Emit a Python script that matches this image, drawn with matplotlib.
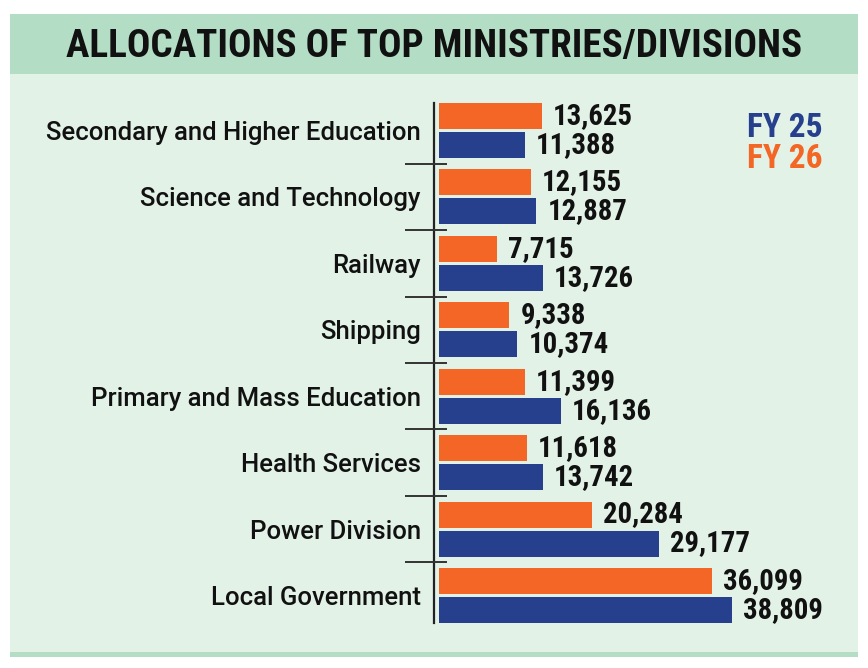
import matplotlib
matplotlib.use("Agg")
import matplotlib.pyplot as plt
from matplotlib import font_manager as fm
from matplotlib.patches import Rectangle
import numpy as np

# ---------------- data ----------------
categories = ["Secondary and Higher Education", "Science and Technology", "Railway",
              "Shipping", "Primary and Mass Education", "Health Services",
              "Power Division", "Local Government"]
fy25 = [11388, 12887, 13726, 10374, 16136, 13742, 29177, 38809]
fy26 = [13625, 12155, 7715, 9338, 11399, 11618, 20284, 36099]
series_names = ["FY 25", "FY 26"]
title = "ALLOCATIONS OF TOP MINISTRIES/DIVISIONS"

# ---------------- style ----------------
ORANGE = "#f36625"
BLUE = "#26408e"
BAND = "#b3dec5"
PANEL = "#e2f2e7"
INK = "#111111"

avail = {f.name for f in fm.fontManager.ttflist}
def pick(*names):
    for n in names:
        if n in avail:
            return n
    return "DejaVu Sans"

COND = pick("Roboto Condensed", "Liberation Sans Narrow", "Open Sans Condensed", "Roboto")
CAT = pick("Roboto", "Open Sans", "Lato", "DejaVu Sans")

W, H = 868, 668
fig = plt.figure(figsize=(W / 100, H / 100), dpi=100, facecolor="white")
renderer = fig.canvas.get_renderer()

def fx(px):
    return px / W
def fy(py):
    return 1 - py / H

def fit_size(text, target_w, base=20, maxsize=None, **kw):
    t = fig.text(0, 0, text, fontsize=base, **kw)
    w = t.get_window_extent(renderer).width
    t.remove()
    s = base * target_w / w
    if maxsize is not None:
        s = min(s, maxsize)
    return s

# background panels
fig.patches.append(Rectangle((fx(10), fy(657)), fx(848), (657 - 74) / H,
                             transform=fig.transFigure, facecolor=PANEL, edgecolor="none", zorder=-5))
fig.patches.append(Rectangle((fx(10), fy(74)), fx(848), 60 / H,
                             transform=fig.transFigure, facecolor=BAND, edgecolor="none", zorder=-5))
fig.patches.append(Rectangle((fx(10), fy(657)), fx(848), 5 / H,
                             transform=fig.transFigure, facecolor=BAND, edgecolor="none", zorder=-5))

# title
ts = fit_size(title, 736, base=26, maxsize=30, family=COND, weight="black")
fig.text(fx(434), fy(57), title, ha="center", va="baseline", fontsize=ts,
         family=COND, weight="black", color=INK)

# ---------------- axes ----------------
ax_l, ax_r, ax_t, ax_b = 434, 858, 103, 623
ax = fig.add_axes([fx(ax_l), fy(ax_b), (ax_r - ax_l) / W, (ax_b - ax_t) / H])
ax.set_zorder(5)
ax.set_facecolor("none")

k = 293 / 38809.0   # px per unit
x0 = 439
ax.set_xlim(-(x0 - ax_l) / k, (ax_r - x0) / k)

pitch = 66.4
off = 14.5 / pitch
bh = 26 / pitch
n = len(categories)
ypos = np.arange(n)
ax.set_ylim(n - 1 + 27.5 / pitch, -27.5 / pitch)

ax.barh(ypos - off, fy26, height=bh, color=ORANGE, edgecolor="none", zorder=2)
ax.barh(ypos + off, fy25, height=bh, color=BLUE, edgecolor="none", zorder=2)

vs = fit_size("20,284", 80, base=20, maxsize=21.5, family=COND, weight="bold")
for y, v in zip(ypos - off, fy26):
    ax.annotate(f"{v:,}", (v, y), xytext=(8, 0), textcoords="offset points",
                ha="left", va="center", fontsize=vs, family=COND, weight="bold", color=INK)
for y, v in zip(ypos + off, fy25):
    ax.annotate(f"{v:,}", (v, y), xytext=(8, 0), textcoords="offset points",
                ha="left", va="center", fontsize=vs, family=COND, weight="bold", color=INK)

# spines / ticks
for s in ["top", "right", "bottom"]:
    ax.spines[s].set_visible(False)
ax.spines["left"].set_color("#222222")
ax.spines["left"].set_linewidth(1.6)
ax.set_xticks([])
ax.set_yticks(ypos)
cs = fit_size("Secondary and Higher Education", 376, base=18, maxsize=21, family=CAT, weight="medium")
ax.set_yticklabels(categories, fontsize=cs, family=CAT, weight="medium", color=INK)
ax.tick_params(axis="y", length=0, pad=9.5)

# group separators
sep_y = ypos[:-1] + 0.5
ax.hlines(sep_y, (405 - ax_l) / (ax_r - ax_l), (447 - ax_l) / (ax_r - ax_l),
          transform=ax.get_yaxis_transform(), color="#333333", lw=1.4, clip_on=False, zorder=3)

# legend text
ls = fit_size("FY 25", 76, base=24, maxsize=26, family=COND, weight="bold")
fig.text(fx(823), fy(137), series_names[0], ha="right", va="baseline", fontsize=ls,
         family=COND, weight="bold", color=BLUE)
fig.text(fx(823), fy(168), series_names[1], ha="right", va="baseline", fontsize=ls,
         family=COND, weight="bold", color=ORANGE)

fig.savefig("out.png", dpi=100, facecolor="white")
